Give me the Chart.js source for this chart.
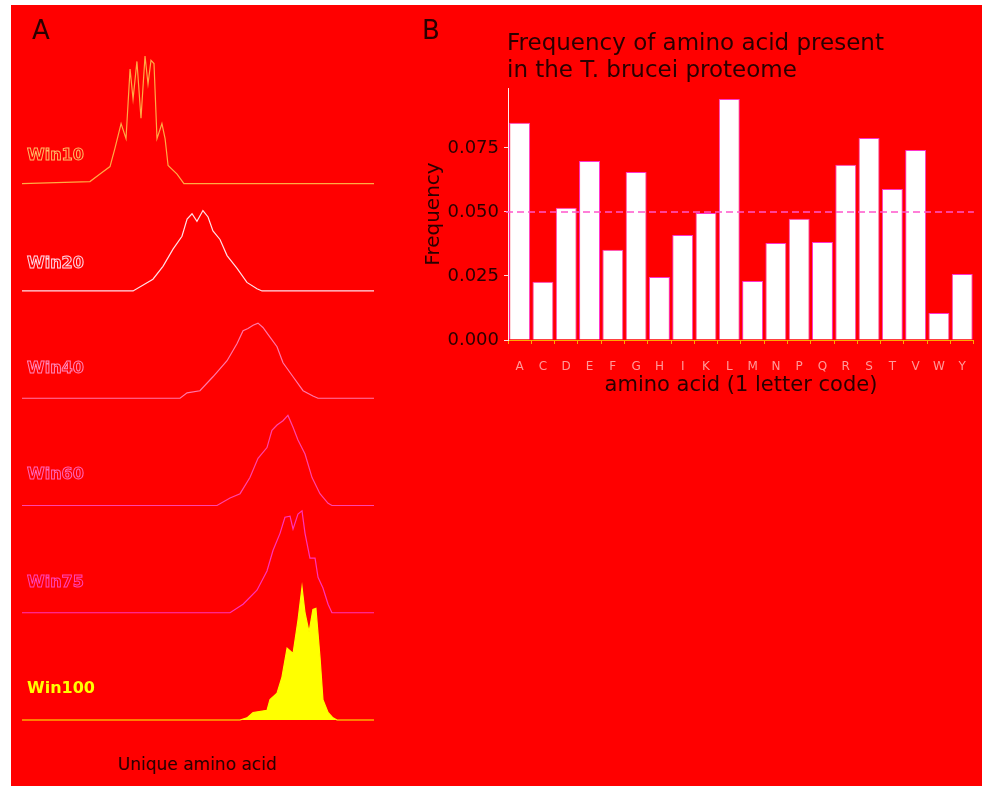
<!DOCTYPE html>
<html>
<head>
<meta charset="utf-8">
<script src="https://cdn.jsdelivr.net/npm/chart.js"></script>
<style>
  body { margin: 0; background: #ffffff; font-family: "DejaVu Sans", sans-serif; }
  #bg { position: absolute; left: 11px; top: 5px; width: 971px; height: 781px; background: #ff0000; }
  canvas { position: absolute; }
  .txt { position: absolute; white-space: nowrap; color: #2a0000; }
  .letter { font-size: 26px; line-height: 26px; }
  .ridge { font-size: 16px; font-weight: bold; line-height: 16px; left: 27px; color: #ff0000; -webkit-text-stroke: 1px #ff99cc; }
</style>
</head>
<body>
<div id="bg"></div>
<canvas id="ridges" width="375" height="725" style="left:11px;top:5px;"></canvas>
<canvas id="freq" width="582" height="400" style="left:400px;top:5px;"></canvas>

<div class="txt letter" style="left:32px;top:17px;">A</div>
<div class="txt letter" style="left:422px;top:17px;">B</div>
<div class="txt" style="left:507px;top:29px;font-size:23px;line-height:27px;">Frequency of amino acid present<br>in the T. brucei proteome</div>
<div class="txt" style="left:197px;top:756px;font-size:17px;line-height:17px;transform:translateX(-50%);">Unique amino acid</div>

<div class="txt ridge" style="top:147px;-webkit-text-stroke-color:#ffbb66;">Win10</div>
<div class="txt ridge" style="top:255px;-webkit-text-stroke-color:#ffd6e6;">Win20</div>
<div class="txt ridge" style="top:360px;-webkit-text-stroke-color:#ff88bb;">Win40</div>
<div class="txt ridge" style="top:466px;-webkit-text-stroke-color:#ff66bb;">Win60</div>
<div class="txt ridge" style="top:574px;-webkit-text-stroke-color:#ff44bb;">Win75</div>
<div class="txt ridge" style="top:680px;color:#ffff00;-webkit-text-stroke:0;">Win100</div>

<script>
// ---- panel A: density ridges (x = unique amino acids in window) ----
var ridgeNames = ['Win10', 'Win20', 'Win40', 'Win60', 'Win75', 'Win100'];

var win10X = [3.86, 4.43, 5.0, 5.28, 5.63, 5.91, 6.14, 6.31, 6.53, 6.76, 6.99, 7.16, 7.33, 7.5, 7.67, 7.95, 8.13, 8.3, 8.81, 9.2];
var win10Y = [0.02, 0.09, 0.16, 0.33, 0.56, 0.42, 1.07, 0.79, 1.14, 0.61, 1.19, 0.93, 1.15, 1.12, 0.42, 0.56, 0.42, 0.17, 0.09, 0];

var win20X = [6.31, 7.44, 8.01, 8.58, 9.09, 9.38, 9.66, 9.94, 10.28, 10.57, 10.85, 11.25, 11.65, 12.22, 12.78, 13.35, 13.64];
var win20Y = [0, 0.11, 0.23, 0.39, 0.51, 0.67, 0.72, 0.65, 0.75, 0.69, 0.56, 0.48, 0.33, 0.21, 0.08, 0.02, 0];

var win40X = [8.98, 9.38, 10.11, 10.85, 11.65, 12.22, 12.56, 12.84, 13.13, 13.41, 13.69, 14.09, 14.49, 14.83, 15.4, 15.97, 16.53, 16.82];
var win40Y = [0, 0.05, 0.07, 0.2, 0.35, 0.51, 0.63, 0.65, 0.68, 0.7, 0.66, 0.57, 0.48, 0.33, 0.2, 0.07, 0.02, 0];

var win60X = [11.08, 11.82, 12.39, 12.95, 13.41, 13.92, 14.2, 14.49, 14.83, 15.11, 15.4, 15.68, 16.08, 16.48, 16.93, 17.39, 17.61];
var win60Y = [0, 0.07, 0.11, 0.26, 0.44, 0.54, 0.7, 0.75, 0.79, 0.84, 0.73, 0.61, 0.48, 0.26, 0.11, 0.02, 0];

var win75X = [11.82, 12.56, 13.35, 13.92, 14.26, 14.66, 14.94, 15.23, 15.4, 15.68, 15.91, 16.08, 16.36, 16.65, 16.82, 17.1, 17.39, 17.61];
var win75Y = [0, 0.08, 0.21, 0.39, 0.58, 0.74, 0.89, 0.9, 0.78, 0.92, 0.95, 0.74, 0.51, 0.51, 0.33, 0.23, 0.08, 0];

var win100X = [12.39, 12.78, 13.13, 13.92, 14.09, 14.49, 14.77, 15.06, 15.4, 15.68, 15.91, 16.08, 16.31, 16.53, 16.7, 16.93, 17.1, 17.39, 17.67, 17.9];
var win100Y = [0, 0.02, 0.07, 0.09, 0.19, 0.25, 0.4, 0.67, 0.62, 0.93, 1.24, 1.0, 0.82, 1.03, 1.04, 0.59, 0.19, 0.07, 0.02, 0];

// ---- panel B: amino acid frequency ----
var aminoAcids = ['A', 'C', 'D', 'E', 'F', 'G', 'H', 'I', 'K', 'L', 'M', 'N', 'P', 'Q', 'R', 'S', 'T', 'V', 'W', 'Y'];
var frequency = [0.0848, 0.0227, 0.0516, 0.0699, 0.0352, 0.0656, 0.0246, 0.0410, 0.0496, 0.0941,
                 0.0230, 0.0379, 0.0473, 0.0383, 0.0684, 0.0789, 0.0590, 0.0742, 0.0105, 0.0258];
var freqTicks = [0, 0.025, 0.05, 0.075];
var refLine = 0.05;

var ridgeX = [win10X, win20X, win40X, win60X, win75X, win100X];
var ridgeY = [win10Y, win20Y, win40Y, win60Y, win75Y, win100Y];
var ridgeColors = ['#ffaa44', '#ffe0e8', '#ff77aa', '#ff44aa', '#ff33bb', '#ffff00'];

var ridgeSets = ridgeNames.map(function(name, i){
    var off = ridgeNames.length - 1 - i;
    var pts = [{x: 0, y: off}];
    ridgeX[i].forEach(function(x, j){ pts.push({x: x, y: off + ridgeY[i][j]}); });
    pts.push({x: 20, y: off});
    var last = (name === 'Win100');
    return {
        label: name,
        data: pts,
        order: off,
        borderColor: ridgeColors[i],
        borderWidth: 1.2,
        pointRadius: 0,
        tension: 0,
        clip: 8,
        fill: last ? {value: off} : false,
        backgroundColor: last ? '#ffff00' : 'transparent'
    };
});

new Chart(document.getElementById('ridges'), {
    type: 'line',
    data: { datasets: ridgeSets },
    options: {
        responsive: false,
        animation: false,
        layout: { padding: { left: 11, right: 12, top: 50, bottom: 10 } },
        plugins: { legend: { display: false }, tooltip: { enabled: false } },
        scales: {
            x: { type: 'linear', min: 0, max: 20, display: false },
            y: { min: 0, max: 6.2, display: false }
        }
    }
});

/* dashed reference line at 0.05 */
var dashLine = {
    id: 'dashLine',
    afterDatasetsDraw: function(chart){
        var c = chart.ctx, a = chart.chartArea;
        var y = chart.scales.y.getPixelForValue(refLine);
        c.save();
        c.setLineDash([7, 4]);
        c.strokeStyle = '#ff55cc';
        c.lineWidth = 1.5;
        c.beginPath();
        c.moveTo(a.left - 2, y);
        c.lineTo(a.right, y);
        c.stroke();
        c.restore();
    }
};

new Chart(document.getElementById('freq'), {
    type: 'bar',
    data: {
        labels: aminoAcids,
        datasets: [{
            data: frequency,
            backgroundColor: '#ffffff',
            borderColor: '#ff33cc',
            borderWidth: 1,
            barPercentage: 0.9,
            categoryPercentage: 1
        }]
    },
    options: {
        responsive: false,
        animation: false,
        layout: { padding: { left: 22, top: 83, right: 4, bottom: 7 } },
        plugins: { legend: { display: false }, tooltip: { enabled: false } },
        scales: {
            x: {
                grid: { drawOnChartArea: false, tickLength: 4, color: '#ffaa00' },
                border: { color: '#ffaa00' },
                ticks: { font: { family: 'DejaVu Sans', size: 12 }, color: '#ff9999', padding: 16, maxRotation: 0, autoSkip: false },
                title: { display: true, text: 'amino acid (1 letter code)', font: { family: 'DejaVu Sans', size: 21 }, color: '#2a0000', padding: 0 },
                afterFit: function(s){ s.height = 58; }
            },
            y: {
                min: 0,
                max: 0.0984,
                afterBuildTicks: function(s){ s.ticks = freqTicks.map(function(v){ return {value: v}; }); },
                ticks: { callback: function(v){ return v.toFixed(3); }, font: { family: 'DejaVu Sans', size: 18 }, color: '#2a0000', padding: 5 },
                grid: { drawOnChartArea: false, tickLength: 4, color: '#ffdddd' },
                border: { color: '#ffeeee' },
                title: { display: true, text: 'Frequency', font: { family: 'DejaVu Sans', size: 20 }, color: '#2a0000', padding: 0 },
                afterFit: function(s){ s.width = 86; }
            }
        }
    },
    plugins: [dashLine]
});
</script>
</body>
</html>
